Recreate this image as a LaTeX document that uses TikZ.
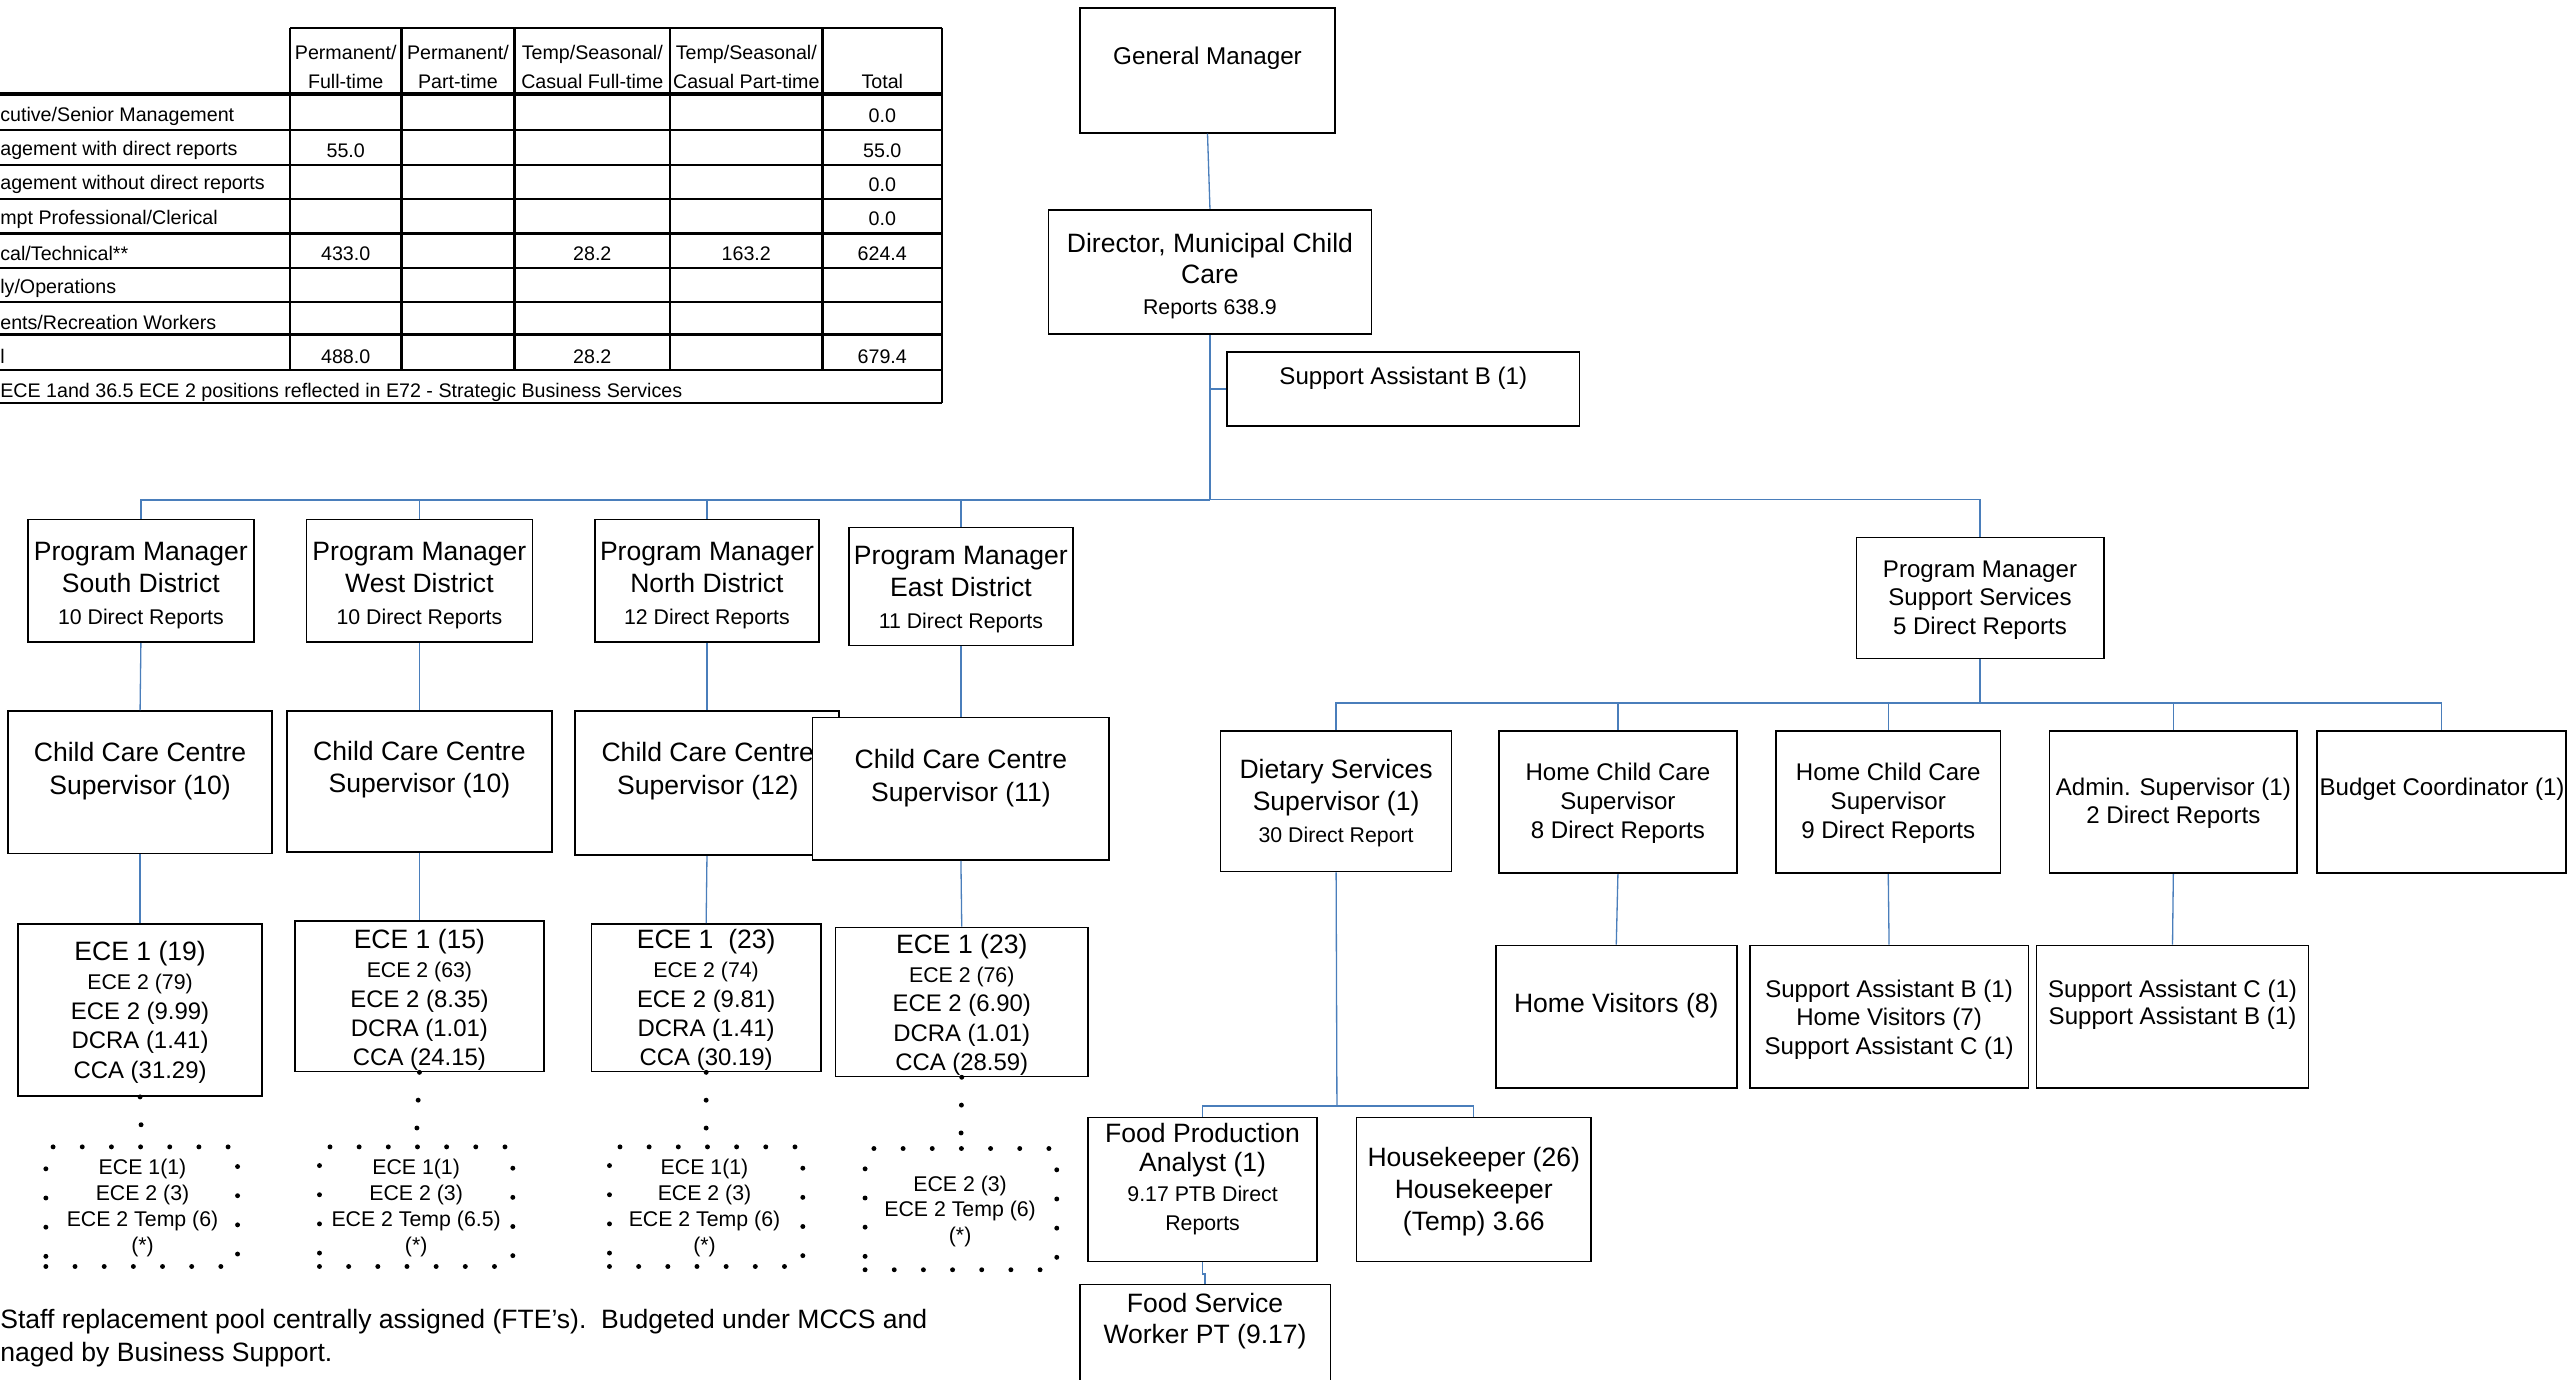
\documentclass[tikz,border=0pt]{standalone}
\usepackage{fontspec}
\setmainfont{Liberation Sans}
\usepackage{xcolor}
\usepackage{tikz}
\usetikzlibrary{positioning,calc}
\definecolor{ink}{HTML}{000000}
\definecolor{wire}{HTML}{4A7EBB}
\newcommand{\szA}{\fontsize{16.2}{19.5}\selectfont}
\newcommand{\szB}{\fontsize{14.7}{17.5}\selectfont}
\newcommand{\szC}{\fontsize{13}{15.7}\selectfont}
\newcommand{\szT}{\fontsize{12}{18}\selectfont}
\newcommand{\fsz}[2]{\fontsize{#1}{#2}\selectfont}
\newcommand{\obox}[6][orgbox]{%
  \node[#1, minimum width={#5-#3}, minimum height={#6-#4}] (#2) at ({(#3+#5)/2},{(#4+#6)/2}) {};}

\tikzset{
  orgbox/.style={draw=ink, line width=1pt, fill=white, inner sep=0pt},
  poolbox/.style={draw=ink, line width=3pt, line cap=round, dash pattern=on 0pt off 17.8pt, inner sep=0pt},
  pooldots/.style={draw=ink, line width=3pt, line cap=round, dash pattern=on 0pt off 17pt},
  txt/.style={inner sep=0pt, align=center, text=ink, yshift=-1.8pt},
  conn/.style={draw=wire, line width=0.8pt},
  connbold/.style={draw=wire, line width=1.3pt},
  grid/.style={draw=ink, line width=1.4pt},
  gridbold/.style={draw=ink, line width=2.1pt}
}

\begin{document}
\begin{tikzpicture}[x=1pt, y=-1pt]
  \useasboundingbox (0,0) rectangle (1568,842);

  % staffing table
  \draw[grid] (177,17) -- (575,17);
  \foreach \y in {79.5,100.5,121.5,142.5,163.5,184.5,226,246}
    \draw[grid] (0,\y) -- (575,\y);
  \draw[gridbold] (0,57.5) -- (575,57.5);
  \draw[gridbold] (0,204) -- (575,204);
  \foreach \x in {177,245,314,409}
    \draw[grid] (\x,17) -- (\x,226);
  \draw[gridbold] (502,17) -- (502,226);
  \draw[grid] (575,17) -- (575,246);

  \node[txt, font=\szT] (hPF) at (211,39) {Permanent/\\Full-time};
  \node[txt, font=\szT] (hPP) at (279.5,39) {Permanent/\\Part-time};
  \node[txt, font=\szT] (hTF) at (361.5,39) {Temp/Seasonal/\\Casual Full-time};
  \node[txt, font=\szT] (hTP) at (455.5,39) {Temp/Seasonal/\\Casual Part-time};
  \node[txt, font=\szT] (hTot) at (538.5,48) {Total};

  \node[txt, font=\szT, anchor=west] (rExec) at (0,69) {cutive/Senior Management};
  \node[txt, font=\szT, anchor=west] (rMgr) at (0,90) {agement with direct reports};
  \node[txt, font=\szT, anchor=west] (rMgrNo) at (0,111) {agement without direct reports};
  \node[txt, font=\szT, anchor=west] (rProf) at (0,132) {mpt Professional/Clerical};
  \node[txt, font=\szT, anchor=west] (rTech) at (0,153) {cal/Technical**};
  \node[txt, font=\szT, anchor=west] (rOps) at (0,174) {ly/Operations};
  \node[txt, font=\szT, anchor=west] (rRec) at (0,195) {ents/Recreation Workers};
  \node[txt, font=\szT, anchor=west] (rTot) at (0,216) {l};
  \node[txt, font=\szT, anchor=west] (rNote) at (0,238) {ECE 1and 36.5 ECE 2 positions reflected in E72 - Strategic Business Services};

  \node[txt, font=\szT] (vExecT) at (538.5,69) {0.0};
  \node[txt, font=\szT] (vMgrPF) at (211,90) {55.0};
  \node[txt, font=\szT] (vMgrT) at (538.5,90) {55.0};
  \node[txt, font=\szT] (vMgrNoT) at (538.5,111) {0.0};
  \node[txt, font=\szT] (vProfT) at (538.5,132) {0.0};
  \node[txt, font=\szT] (vTechPF) at (211,153) {433.0};
  \node[txt, font=\szT] (vTechTF) at (361.5,153) {28.2};
  \node[txt, font=\szT] (vTechTP) at (455.5,153) {163.2};
  \node[txt, font=\szT] (vTechT) at (538.5,153) {624.4};
  \node[txt, font=\szT] (vTotPF) at (211,216) {488.0};
  \node[txt, font=\szT] (vTotTF) at (361.5,216) {28.2};
  \node[txt, font=\szT] (vTotT) at (538.5,216) {679.4};

  % top of the chart
  \obox{gm}{659}{5}{815}{81}
  \node[txt, font=\fsz{14.8}{17}] (gmTxt) at (737,34) {General Manager};
  \obox{dir}{640}{128}{837}{204}
  \node[txt, font=\fsz{16.2}{19}] (dirTxt) at (738.5,166.5) {Director, Municipal Child\\Care\\{\szC Reports 638.9}};
  \obox{sab}{749}{215}{964}{260}
  \node[txt, font=\szB] (sabTxt) at (856.5,229) {Support Assistant B (1)};

  % district program managers
  \obox{pmS}{17}{317}{155}{392}
  \node[txt, font=\szA] (pmSTxt) at (86,355.5) {Program Manager\\South District\\{\szC 10 Direct Reports}};
  \obox{pmW}{187}{317}{325}{392}
  \node[txt, font=\szA] (pmWTxt) at (256,355.5) {Program Manager\\West District\\{\szC 10 Direct Reports}};
  \obox{pmN}{363}{317}{500}{392}
  \node[txt, font=\szA] (pmNTxt) at (431.5,355.5) {Program Manager\\North District\\{\szC 12 Direct Reports}};
  \obox{pmE}{518}{322}{655}{394}
  \node[txt, font=\szA] (pmETxt) at (586.5,358) {Program Manager\\East District\\{\szC 11 Direct Reports}};

  % child care centre supervisors
  \obox{cccS}{5}{434}{166}{521}
  \node[txt, font=\fsz{16.2}{20}] (cccSTxt) at (85.5,469) {Child Care Centre\\Supervisor (10)};
  \obox{cccW}{175}{434}{337}{520}
  \node[txt, font=\fsz{16.2}{20}] (cccWTxt) at (256,468) {Child Care Centre\\Supervisor (10)};
  \obox{cccN}{351}{434}{512}{522}
  \node[txt, font=\fsz{16.2}{20}] (cccNTxt) at (432,469) {Child Care Centre\\Supervisor (12)};
  \obox{cccE}{496}{438}{677}{525}
  \node[txt, font=\fsz{16.2}{20}] (cccETxt) at (586.5,473) {Child Care Centre\\Supervisor (11)};

  % ECE staff
  \obox{eceS}{11}{564}{160}{669}
  \node[txt, font=\fsz{14.6}{18}] (eceSTxt) at (85.5,616) {{\szA ECE 1 (19)}\\{\szC ECE 2 (79)}\\ECE 2 (9.99)\\DCRA (1.41)\\CCA (31.29)};
  \obox{eceW}{180}{562}{332}{654}
  \node[txt, font=\fsz{14.6}{17.75}] (eceWTxt) at (256,608.5) {{\szA ECE 1 (15)}\\{\szC ECE 2 (63)}\\ECE 2 (8.35)\\DCRA (1.01)\\CCA (24.15)};
  \obox{eceN}{361}{564}{501}{654}
  \node[txt, font=\fsz{14.6}{17.75}] (eceNTxt) at (431,608.5) {{\szA ECE 1\ \ (23)}\\{\szC ECE 2 (74)}\\ECE 2 (9.81)\\DCRA (1.41)\\CCA (30.19)};
  \obox{eceE}{510}{566}{664}{657}
  \node[txt, font=\fsz{14.6}{17.75}] (eceETxt) at (587,611.5) {{\szA ECE 1 (23)}\\{\szC ECE 2 (76)}\\ECE 2 (6.90)\\DCRA (1.01)\\CCA (28.59)};

  % replacement pools
  \obox[poolbox]{poolS}{28}{700}{145}{773}
  \node[txt, font=\szC] (poolSTxt) at (87,735.5) {ECE 1(1)\\ECE 2 (3)\\ECE 2 Temp (6)\\(*)};
  \obox[poolbox]{poolW}{195}{700}{313}{773}
  \node[txt, font=\szC] (poolWTxt) at (254,735.5) {ECE 1(1)\\ECE 2 (3)\\ECE 2 Temp (6.5)\\(*)};
  \obox[poolbox]{poolN}{372}{700}{490}{773}
  \node[txt, font=\szC] (poolNTxt) at (430,735.5) {ECE 1(1)\\ECE 2 (3)\\ECE 2 Temp (6)\\(*)};
  \obox[poolbox]{poolE}{528}{701}{645}{775}
  \node[txt, font=\fsz{13}{15.5}] (poolETxt) at (586,737.5) {ECE 2 (3)\\ECE 2 Temp (6)\\(*)};

  % support services
  \obox{pmSS}{1133}{328}{1284}{402}
  \node[txt, font=\szB] (pmSSTxt) at (1208.5,364.5) {Program Manager\\Support Services\\5 Direct Reports};
  \obox{diet}{745}{446}{886}{532}
  \node[txt, font=\szA] (dietTxt) at (815.5,488.5) {Dietary Services\\Supervisor (1)\\{\szC 30 Direct Report}};
  \obox{hccA}{915}{446}{1060}{533}
  \node[txt, font=\szB] (hccATxt) at (987.5,488.5) {Home Child Care\\Supervisor\\8 Direct Reports};
  \obox{hccB}{1084}{446}{1221}{533}
  \node[txt, font=\szB] (hccBTxt) at (1152.5,488.5) {Home Child Care\\Supervisor\\9 Direct Reports};
  \obox{adm}{1251}{446}{1402}{533}
  \node[txt, font=\fsz{14.7}{17}] (admTxt) at (1326.5,488.5) {Admin. Supervisor (1)\\2 Direct Reports};
  \obox{bud}{1414}{446}{1566}{533}
  \node[txt, font=\szB] (budTxt) at (1490.5,480) {Budget Coordinator (1)};
  \obox{hvA}{913}{577}{1060}{664}
  \node[txt, font=\szA] (hvATxt) at (986.5,612) {Home Visitors (8)};
  \obox{hvB}{1068}{577}{1238}{664}
  \node[txt, font=\szB] (hvBTxt) at (1153,620.5) {Support Assistant B (1)\\Home Visitors (7)\\Support Assistant C (1)};
  \obox{admSA}{1243}{577}{1409}{664}
  \node[txt, font=\fsz{14.7}{17}] (admSATxt) at (1326,611.5) {Support Assistant C (1)\\Support Assistant B (1)};
  \obox{fpa}{664}{682}{804}{770}
  \node[txt, font=\fsz{16.2}{18}] (fpaTxt) at (734,718) {Food Production\\Analyst (1)\\{\szC 9.17 PTB Direct}\\{\szC Reports}};
  \obox{hk}{828}{682}{971}{770}
  \node[txt, font=\szA] (hkTxt) at (899.5,725.5) {Housekeeper (26)\\Housekeeper\\(Temp) 3.66};
  \obox{fsw}{659}{784}{812}{852}
  \node[txt, font=\fsz{16.2}{19}] (fswTxt) at (735.5,804.5) {Food Service\\Worker PT (9.17)};

  \node[txt, font=\fsz{16.2}{20}, align=left, anchor=west] (note) at (0,815)
    {Staff replacement pool centrally assigned (FTE’s).\ \ Budgeted under MCCS and\\naged by Business Support.};

  % connectors
  \coordinate (busA) at (738.5,305);
  \coordinate (busB) at (1208.5,429);
  \coordinate (busC) at (816,675);
  \draw[conn] (gm.south) -- (dir.north);
  \draw[connbold] (dir.south) -- (busA);
  \draw[conn] (sab.west) -- (sab.west -| dir.south);
  \draw[connbold] (pmS.north |- busA) -- (busA);
  \draw[conn] (pmS.north) |- (busA);
  \draw[conn] (pmW.north) |- (busA);
  \draw[conn] (pmN.north) |- (busA);
  \draw[conn] (pmE.north) |- (busA);
  \draw[conn] (pmSS.north) |- (busA);

  \draw[conn] (pmS.south) -- (cccS.north);
  \draw[conn] (pmW.south) -- (cccW.north);
  \draw[conn] (pmN.south) -- (cccN.north);
  \draw[conn] (pmE.south) -- (cccE.north);
  \draw[conn] (cccS.south) -- (eceS.north);
  \draw[conn] (cccW.south) -- (eceW.north);
  \draw[conn] (cccN.south) -- (eceN.north);
  \draw[conn] (cccE.south) -- (eceE.north);
  \draw[pooldots] (eceS.south) -- (poolS.north);
  \draw[pooldots] (eceW.south) -- (poolW.north);
  \draw[pooldots] (eceN.south) -- (poolN.north);
  \draw[pooldots] (eceE.south) -- (poolE.north);

  \draw[connbold] (pmSS.south) -- (busB);
  \draw[conn] (diet.north) |- (busB);
  \draw[conn] (hccA.north) |- (busB);
  \draw[conn] (hccB.north) |- (busB);
  \draw[conn] (adm.north) |- (busB);
  \draw[conn] (bud.north) |- (busB);
  \draw[conn] (hccA.south) -- (hvA.north);
  \draw[conn] (hccB.south) -- (hvB.north);
  \draw[conn] (adm.south) -- (admSA.north);
  \draw[conn] (diet.south) -- (busC);
  \draw[conn] (fpa.north) |- (busC);
  \draw[conn] (hk.north) |- (busC);
  \draw[conn] (fpa.south) -- ++(0,7) -| (fsw.north);
\end{tikzpicture}
\end{document}
